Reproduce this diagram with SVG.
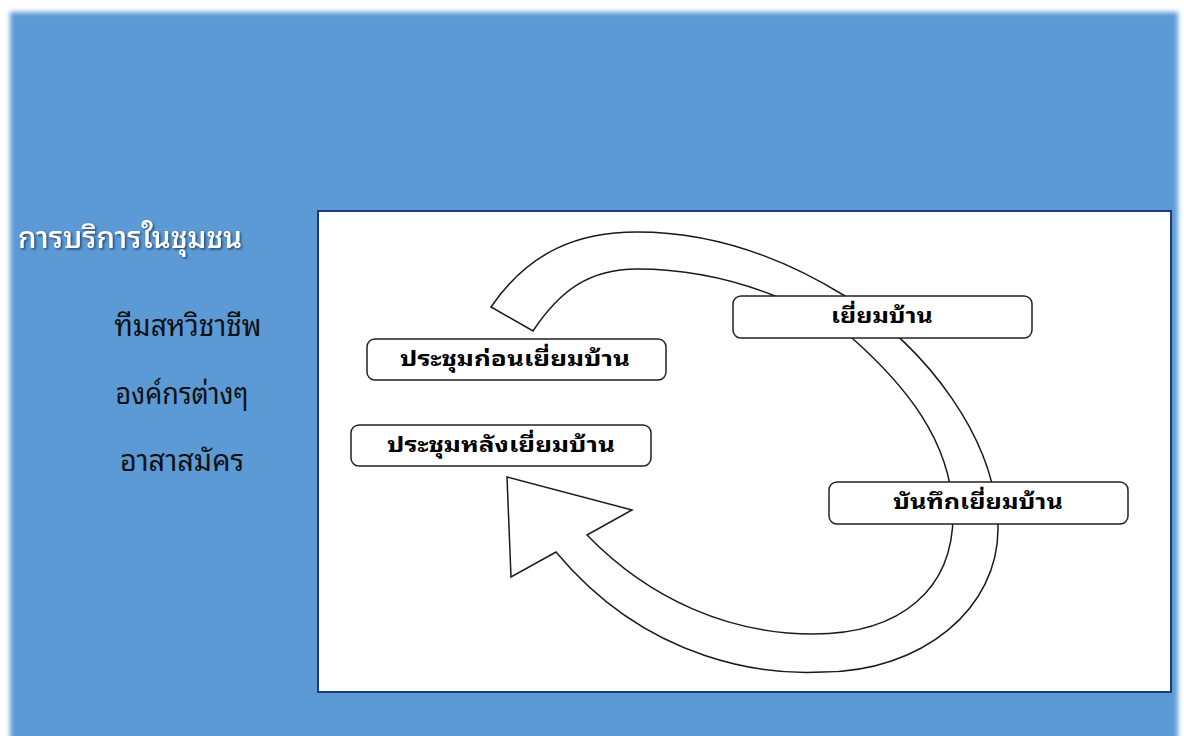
<svg xmlns="http://www.w3.org/2000/svg" width="1184" height="736" viewBox="0 0 1184 736">
<defs>
<filter id="soft" x="-5%" y="-5%" width="110%" height="110%"><feGaussianBlur stdDeviation="2.5"/></filter>
<filter id="tshadow" x="-10%" y="-30%" width="120%" height="160%"><feDropShadow dx="1.5" dy="1.5" stdDeviation="1" flood-color="#1f3050" flood-opacity="0.8"/></filter>
<style>
.box{fill:#ffffff;stroke:#222222;stroke-width:1.5}
.bt{font-family:"Noto Sans Thai Looped","Tahoma","Noto Sans Thai","Noto Sans","DejaVu Sans",sans-serif;font-size:20px;font-weight:bold;fill:#000000;text-anchor:middle}
.lt{font-family:"Noto Sans Thai Looped","Tahoma","Noto Sans Thai","Noto Sans","DejaVu Sans",sans-serif;font-size:29px;fill:#111111;text-anchor:middle}
.title{font-family:"Noto Sans Thai Looped","Tahoma","Noto Sans Thai","Noto Sans","DejaVu Sans",sans-serif;font-size:30px;font-weight:500;fill:#ffffff}
</style>
</defs>
<rect x="0" y="0" width="1184" height="736" fill="#ffffff"/>
<rect x="10" y="12" width="1168" height="730" fill="#5B9AD5" filter="url(#soft)"/>
<rect x="318" y="211" width="853" height="481" fill="#ffffff" stroke="#1F3A78" stroke-width="2"/>
<text class="title" x="18" y="248" textLength="224" lengthAdjust="spacingAndGlyphs" filter="url(#tshadow)">การบริการในชุมชน</text>
<text class="lt" x="188" y="336" textLength="147" lengthAdjust="spacingAndGlyphs">ทีมสหวิชาชีพ</text>
<text class="lt" x="182" y="404" textLength="133" lengthAdjust="spacingAndGlyphs">องค์กรต่างๆ</text>
<text class="lt" x="182" y="471" textLength="124" lengthAdjust="spacingAndGlyphs">อาสาสมัคร</text>
<g id="connectors">
<path d="M491,307 C530,250 580,232 637,232 C720,232 790,262 845,296 C930,350 995,440 998,525 C1000,610 920,672 823,672 C770,675 650,665 556,552 L511,577 L507,477 L632,510 L587,535 C650,600 730,634 813,634 C900,634 955,590 953,510 C950,440 905,385 852,338 C830,320 800,306 775,296 C735,280 690,269 637,269 C590,269 560,290 533,331 Z" fill="#ffffff" stroke="#1a1a1a" stroke-width="1.5" stroke-linejoin="miter"/>
</g>
<g id="node-visit"><rect class="box" x="733" y="296" width="299" height="42" rx="8"/><text class="bt" x="882" y="323" textLength="102" lengthAdjust="spacingAndGlyphs">เยี่ยมบ้าน</text></g>
<g id="node-premeeting"><rect class="box" x="367" y="339" width="299" height="41" rx="8"/><text class="bt" x="515" y="366" textLength="230" lengthAdjust="spacingAndGlyphs">ประชุมก่อนเยี่ยมบ้าน</text></g>
<g id="node-postmeeting"><rect class="box" x="351" y="425" width="300" height="41" rx="8"/><text class="bt" x="501" y="452" textLength="228" lengthAdjust="spacingAndGlyphs">ประชุมหลังเยี่ยมบ้าน</text></g>
<g id="node-record"><rect class="box" x="829" y="482" width="299" height="42" rx="8"/><text class="bt" x="978" y="509" textLength="170" lengthAdjust="spacingAndGlyphs">บันทึกเยี่ยมบ้าน</text></g>
</svg>
